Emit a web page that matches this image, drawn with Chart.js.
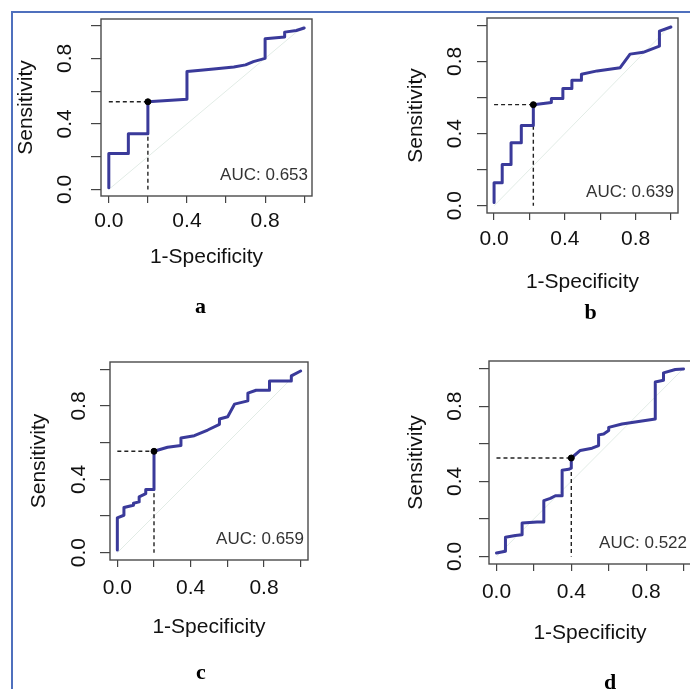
<!DOCTYPE html>
<html>
<head>
<meta charset="utf-8">
<script src="https://cdn.jsdelivr.net/npm/chart.js@4.4.1/dist/chart.umd.min.js"></script>
<style>
  html, body { margin: 0; padding: 0; background: #fff; overflow: hidden; }
  #page { position: relative; width: 690px; height: 689px; overflow: hidden; }
  #frame { position: absolute; left: 11px; top: 11px; width: 700px; height: 700px;
           border-left: 2px solid #4f70bd; border-top: 2px solid #4f70bd; }
  canvas { position: absolute; }
</style>
</head>
<body>
<div id="page"><div id="frame"></div></div>
<script>
// ROC curves: x = 1-specificity, y = sensitivity
const fprA = [0, 0, 0.1, 0.1, 0.2, 0.2, 0.4, 0.4, 0.47, 0.55, 0.64, 0.7, 0.74, 0.8, 0.8, 0.9, 0.9, 0.96, 1.0];
const tprA = [0.01, 0.22, 0.22, 0.34, 0.34, 0.535, 0.55, 0.72, 0.727, 0.737, 0.747, 0.76, 0.78, 0.8, 0.92, 0.93, 0.96, 0.97, 0.985];

const fprB = [0, 0, 0.046, 0.046, 0.096, 0.096, 0.154, 0.154, 0.222, 0.222, 0.324, 0.324, 0.389, 0.389,
              0.44, 0.44, 0.494, 0.494, 0.583, 0.713, 0.769, 0.843, 0.935, 0.935, 1.0];
const tprB = [0.018, 0.127, 0.127, 0.229, 0.229, 0.349, 0.349, 0.444, 0.444, 0.56, 0.572, 0.594, 0.594, 0.65,
              0.65, 0.695, 0.695, 0.728, 0.747, 0.765, 0.84, 0.85, 0.884, 0.967, 0.99];

const fprC = [0, 0, 0.036, 0.036, 0.088, 0.088, 0.119, 0.119, 0.155, 0.155, 0.2, 0.2, 0.274, 0.347, 0.347,
              0.42, 0.493, 0.557, 0.557, 0.602, 0.639, 0.712, 0.712, 0.757, 0.83, 0.83, 0.949, 0.949, 1.0];
const tprC = [0.014, 0.19, 0.204, 0.246, 0.259, 0.27, 0.277, 0.304, 0.322, 0.344, 0.344, 0.553, 0.575, 0.584, 0.626,
              0.638, 0.669, 0.7, 0.729, 0.741, 0.81, 0.828, 0.87, 0.886, 0.886, 0.937, 0.937, 0.964, 0.991];

const fprD = [0, 0.048, 0.048, 0.101, 0.137, 0.137, 0.217, 0.253, 0.253, 0.288, 0.315, 0.351, 0.351, 0.386, 0.4,
              0.4, 0.448, 0.511, 0.546, 0.546, 0.573, 0.6, 0.6, 0.671, 0.849, 0.849, 0.893, 0.893, 0.956, 1.0];
const tprD = [0.019, 0.028, 0.102, 0.112, 0.116, 0.178, 0.183, 0.183, 0.297, 0.309, 0.323, 0.323, 0.459, 0.464, 0.47,
              0.524, 0.564, 0.576, 0.59, 0.647, 0.652, 0.67, 0.687, 0.705, 0.731, 0.928, 0.938, 0.977, 0.995, 0.998];

// best threshold points (the dot with dashed guides)
const thrX = [0.2, 0.222, 0.2, 0.4];
const thrY = [0.535, 0.56, 0.553, 0.524];
const aucText = ['0.653', '0.639', '0.659', '0.522'];
const panelLetters = ['a', 'b', 'c', 'd'];

const diagX = [0, 1];
const diagY = [0, 1];
const tickValues = [0, 0.2, 0.4, 0.6, 0.8, 1.0];
const labelledTicks = [0, 0.4, 0.8];

// where each plot box sits on the page: [left, top, right, bottom]
const layout = [
  { fpr: fprA, tpr: tprA, box: [101, 19, 312, 196], yTitle: 74, xTitle: 61, yPad: 11, xPad: 6, letterDx: -6, letterDy: 111 },
  { fpr: fprB, tpr: tprB, box: [487, 18, 678, 213], yTitle: 70, xTitle: 69, yPad: 7, xPad: 7, letterDx: 8, letterDy: 100 },
  { fpr: fprC, tpr: tprC, box: [110, 362, 308, 560], yTitle: 70, xTitle: 67, yPad: 6, xPad: 9, letterDx: -8, letterDy: 113 },
  { fpr: fprD, tpr: tprD, box: [489, 361, 691, 564], yTitle: 72, xTitle: 69, yPad: 9, xPad: 9, letterDx: 20, letterDy: 119 },
];

const FONT = "'Liberation Sans', Arial, sans-serif";
const FS = 21;
const HALF_LH = Math.round(FS * 1.2 / 2);
const PAD_T = 8, PAD_R = 12, PAD_B = 60;

const toPoints = (xs, ys) => xs.map((x, i) => ({ x: x, y: ys[i] }));

const panelDecor = {
  id: 'panelDecor',
  afterDraw(chart, args, opts) {
    const { ctx, chartArea: a } = chart;
    ctx.save();
    ctx.strokeStyle = '#4a4a4a';
    ctx.lineWidth = 1.4;
    ctx.strokeRect(a.left, a.top, a.right - a.left, a.bottom - a.top);
    ctx.fillStyle = '#333';
    ctx.font = '17px ' + FONT;
    ctx.textAlign = 'right';
    ctx.textBaseline = 'middle';
    ctx.fillText('AUC: ' + opts.auc, a.right - 4, a.bottom - 21);
    ctx.fillStyle = '#000';
    ctx.font = "bold 22px 'Liberation Serif', 'Times New Roman', serif";
    ctx.textAlign = 'center';
    ctx.fillText(opts.letter, (a.left + a.right) / 2 + opts.letterDx, a.bottom + opts.letterDy);
    ctx.restore();
  }
};

const page = document.getElementById('page');

layout.forEach((p, k) => {
  const [L, T, R, B] = p.box;
  const wy = p.yTitle + HALF_LH;
  const hx = p.xTitle + HALF_LH;
  const canvas = document.createElement('canvas');
  canvas.width = wy + (R - L) + PAD_R;
  canvas.height = PAD_T + (B - T) + hx + PAD_B;
  canvas.style.left = (L - wy) + 'px';
  canvas.style.top = (T - PAD_T) + 'px';
  page.appendChild(canvas);

  const tickFont = { family: FONT, size: FS };
  const tickLabel = (v) => labelledTicks.includes(v) ? v.toFixed(1) : '';

  new Chart(canvas, {
    type: 'scatter',
    data: {
      datasets: [
        { data: toPoints(diagX, diagY), showLine: true, borderColor: '#e2ece6', borderWidth: 1, pointRadius: 0, order: 5 },
        { data: toPoints([0, thrX[k]], [thrY[k], thrY[k]]), showLine: true, borderColor: '#222', borderWidth: 1.4,
          borderDash: [4, 3], pointRadius: 0, order: 3 },
        { data: toPoints([thrX[k], thrX[k]], [thrY[k], 0]), showLine: true, borderColor: '#222', borderWidth: 1.4,
          borderDash: [4, 3], pointRadius: 0, order: 3 },
        { data: toPoints(p.fpr, p.tpr), showLine: true, borderColor: '#3a3a9a', borderWidth: 3,
          borderCapStyle: 'round', borderJoinStyle: 'round', pointRadius: 0, order: 2 },
        { data: toPoints([thrX[k]], [thrY[k]]), showLine: false, pointRadius: 3, pointBackgroundColor: '#000',
          pointBorderColor: '#000', order: 1 },
      ]
    },
    options: {
      responsive: false,
      animation: false,
      devicePixelRatio: 1,
      layout: { padding: { left: 0, top: PAD_T, right: PAD_R, bottom: PAD_B } },
      plugins: {
        legend: { display: false },
        tooltip: { enabled: false },
        panelDecor: { auc: aucText[k], letter: panelLetters[k], letterDx: p.letterDx, letterDy: p.letterDy },
      },
      scales: {
        x: {
          type: 'linear', min: -0.04, max: 1.04, bounds: 'data',
          afterBuildTicks: (s) => { s.ticks = tickValues.map(v => ({ value: v })); },
          afterFit: (s) => { s.height = hx; s.paddingLeft = 0; s.paddingRight = 0; },
          grid: { drawOnChartArea: false, drawTicks: true, tickLength: 7, color: '#444', lineWidth: 1.2 },
          border: { display: false },
          ticks: { autoSkip: false, minRotation: 0, maxRotation: 0, padding: p.xPad, color: '#111',
                   font: tickFont, callback: tickLabel },
          title: { display: true, text: '1-Specificity', color: '#111', font: tickFont, padding: 0 },
        },
        y: {
          type: 'linear', min: -0.04, max: 1.04, bounds: 'data',
          afterBuildTicks: (s) => { s.ticks = tickValues.map(v => ({ value: v })); },
          afterFit: (s) => { s.width = wy; s.paddingTop = 0; s.paddingBottom = 0; },
          grid: { drawOnChartArea: false, drawTicks: true, tickLength: 10, color: '#444', lineWidth: 1.2 },
          border: { display: false },
          ticks: { autoSkip: false, minRotation: 90, maxRotation: 90, crossAlign: 'center', padding: p.yPad,
                   color: '#111', font: tickFont, callback: tickLabel },
          title: { display: true, text: 'Sensitivity', color: '#111', font: tickFont, padding: 0 },
        },
      },
    },
    plugins: [panelDecor],
  });
});
</script>
</body>
</html>
